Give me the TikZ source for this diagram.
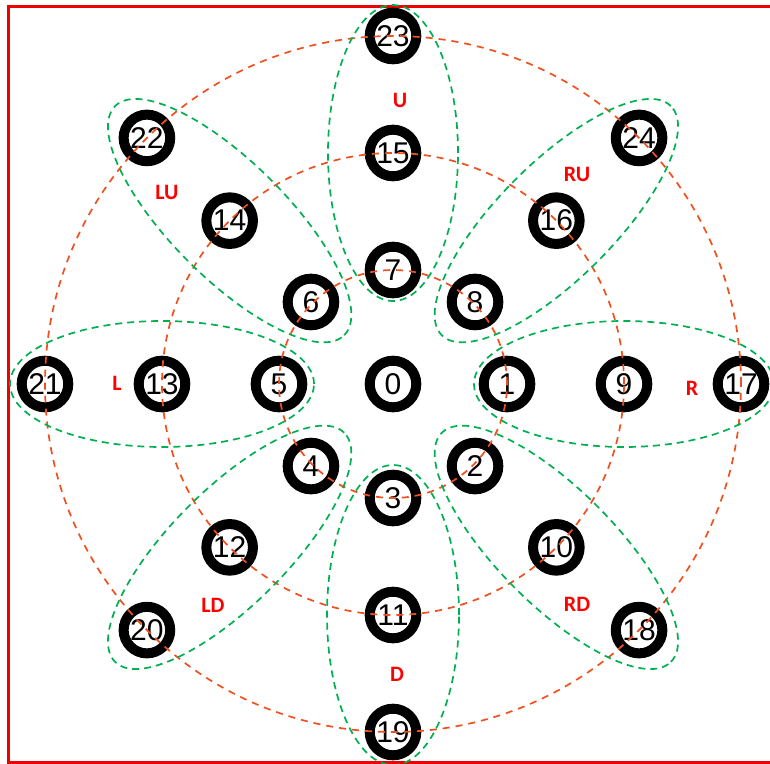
\documentclass[tikz,border=0pt]{standalone}
\usepackage{fontspec}
\setmainfont{Liberation Sans}
\newfontfamily\lblfont{Carlito}
\usetikzlibrary{arrows}

\definecolor{ringred}{RGB}{240,80,30}
\definecolor{grpgreen}{RGB}{0,176,80}
\definecolor{framered}{RGB}{240,0,0}

\begin{document}
\begin{tikzpicture}[x=1pt,y=1pt]
  \tikzstyle{num}=[circle,draw=black,fill=white,line width=10pt,
                   minimum size=46.6pt,inner sep=0pt,
                   font=\fontsize{30}{32}\selectfont]
  \tikzstyle{orbit}=[draw=ringred,line width=1.7pt,dash pattern=on 7pt off 6pt]
  \tikzstyle{grp}=[draw=grpgreen,line width=1.7pt,dash pattern=on 7pt off 5pt]
  \tikzstyle{dir}=[text=red,font=\lblfont\bfseries\fontsize{22}{23}\selectfont]

  \useasboundingbox (-393,-379) rectangle (377,384);
  \draw[framered,line width=3pt] (377,-378.5) -- (-384.5,-378.5)
        -- (-384.5,377.5) -- (377,377.5);

  % centre
  \node[num] (n0) at (0,0) {0};

  % inner ring
  \node[num] (n1) at (0:114)    {1};
  \node[num] (n2) at (-45:116)  {2};
  \node[num] (n3) at (-90:114)  {3};
  \node[num] (n4) at (-135:116) {4};
  \node[num] (n5) at (180:114)  {5};
  \node[num] (n6) at (135:116)  {6};
  \node[num] (n7) at (90:114)   {7};
  \node[num] (n8) at (45:116)   {8};

  % middle ring
  \node[num] (n9)  at (0:231)    {9};
  \node[num] (n10) at (-45:231)  {10};
  \node[num] (n11) at (-90:231)  {11};
  \node[num] (n12) at (-135:231) {12};
  \node[num] (n13) at (180:231)  {13};
  \node[num] (n14) at (135:231)  {14};
  \node[num] (n15) at (90:231)   {15};
  \node[num] (n16) at (45:231)   {16};

  % outer ring
  \node[num] (n17) at (0:348)    {17};
  \node[num] (n18) at (-45:348)  {18};
  \node[num] (n19) at (-90:348)  {19};
  \node[num] (n20) at (-135:348) {20};
  \node[num] (n21) at (180:348)  {21};
  \node[num] (n22) at (135:348)  {22};
  \node[num] (n23) at (90:348)   {23};
  \node[num] (n24) at (45:348)   {24};

  % dashed rings through the nodes
  \path[orbit] (n0) circle (114);
  \path[orbit] (n0) circle (231);
  \path[orbit] (n0) circle (348);

  % groups, one per direction
  \path[grp] (n9)  ellipse (150 and 63);
  \path[grp] (n13) ellipse (152 and 63);
  \path[grp] (n15) ellipse (65 and 148);
  \path[grp] (n11) ellipse (66 and 150);
  \path[grp,rotate around={45:(n16)}]  (n16) ellipse (162 and 58);
  \path[grp,rotate around={-45:(n10)}] (n10) ellipse (162 and 58);
  \path[grp,rotate around={45:(n12)}]  (n12) ellipse (162 and 58);
  \path[grp,rotate around={-45:(n14)}] (n14) ellipse (162 and 58);

  % direction names
  \node[dir] (lU)  at (7,284)     {U};
  \node[dir] (lRU) at (184,210)   {RU};
  \node[dir] (lR)  at (299,-4)    {R};
  \node[dir] (lRD) at (184,-220)  {RD};
  \node[dir] (lD)  at (4,-290)    {D};
  \node[dir] (lLD) at (-180,-221) {LD};
  \node[dir] (lL)  at (-276,1)    {L};
  \node[dir] (lLU) at (-226,192)  {LU};
\end{tikzpicture}
\end{document}
